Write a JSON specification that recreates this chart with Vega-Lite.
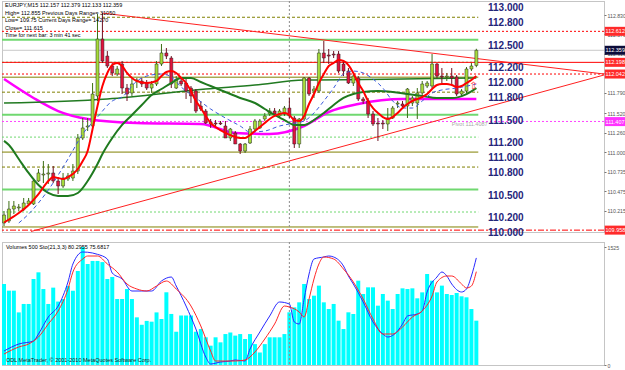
{
"$schema": "https://vega.github.io/schema/vega-lite/v6.json",
"padding": 0,
"spacing": 2,
"background": "white",
"config": {
  "view": {"stroke": "#8a8a8a", "strokeDash": [1, 1], "fill": "white"},
  "axis": {"grid": false, "domain": false},
  "text": {"font": "Liberation Sans"}
},
"datasets": {
  "bars": [
    {"i":0,"o":110.053,"h":110.213,"l":110.013,"c":110.160,"v":1047},
    {"i":1,"o":110.080,"h":110.347,"l":110.053,"c":110.240,"v":961},
    {"i":2,"o":110.240,"h":110.347,"l":110.173,"c":110.280,"v":961},
    {"i":3,"o":110.254,"h":110.307,"l":110.213,"c":110.267,"v":680},
    {"i":4,"o":110.240,"h":110.387,"l":110.213,"c":110.320,"v":789},
    {"i":5,"o":110.307,"h":110.387,"l":110.294,"c":110.347,"v":789},
    {"i":6,"o":110.307,"h":110.654,"l":110.294,"c":110.614,"v":1112},
    {"i":7,"o":110.614,"h":110.774,"l":110.601,"c":110.721,"v":1198},
    {"i":8,"o":110.694,"h":110.881,"l":110.587,"c":110.707,"v":982},
    {"i":9,"o":110.707,"h":110.841,"l":110.574,"c":110.721,"v":789},
    {"i":10,"o":110.721,"h":110.814,"l":110.587,"c":110.614,"v":1000},
    {"i":11,"o":110.614,"h":110.654,"l":110.440,"c":110.547,"v":820},
    {"i":12,"o":110.547,"h":110.721,"l":110.521,"c":110.654,"v":853},
    {"i":13,"o":110.641,"h":110.721,"l":110.614,"c":110.681,"v":1021},
    {"i":14,"o":110.654,"h":110.841,"l":110.614,"c":110.747,"v":960},
    {"i":15,"o":110.747,"h":111.241,"l":110.707,"c":111.188,"v":1215},
    {"i":16,"o":111.188,"h":111.455,"l":111.161,"c":111.322,"v":1525},
    {"i":17,"o":111.335,"h":111.455,"l":111.281,"c":111.348,"v":1306},
    {"i":18,"o":111.348,"h":111.922,"l":111.322,"c":111.775,"v":1345},
    {"i":19,"o":111.749,"h":112.843,"l":111.682,"c":112.509,"v":1345},
    {"i":20,"o":112.509,"h":112.856,"l":112.189,"c":112.216,"v":1330},
    {"i":21,"o":112.282,"h":112.349,"l":112.122,"c":112.149,"v":1112},
    {"i":22,"o":112.149,"h":112.189,"l":112.015,"c":112.056,"v":1138},
    {"i":23,"o":112.042,"h":112.149,"l":112.015,"c":112.109,"v":853},
    {"i":24,"o":112.176,"h":112.216,"l":111.775,"c":111.855,"v":853},
    {"i":25,"o":111.855,"h":111.909,"l":111.682,"c":111.775,"v":982},
    {"i":26,"o":111.789,"h":111.975,"l":111.749,"c":111.909,"v":853},
    {"i":27,"o":111.949,"h":111.989,"l":111.855,"c":111.962,"v":616},
    {"i":28,"o":111.949,"h":111.989,"l":111.869,"c":111.909,"v":520},
    {"i":29,"o":111.922,"h":111.962,"l":111.829,"c":111.855,"v":570},
    {"i":30,"o":111.855,"h":111.949,"l":111.789,"c":111.909,"v":560},
    {"i":31,"o":111.909,"h":112.216,"l":111.882,"c":112.176,"v":680},
    {"i":32,"o":112.176,"h":112.443,"l":112.149,"c":112.323,"v":595},
    {"i":33,"o":112.323,"h":112.389,"l":112.242,"c":112.282,"v":940},
    {"i":34,"o":112.256,"h":112.282,"l":111.855,"c":111.909,"v":660},
    {"i":35,"o":111.855,"h":112.015,"l":111.842,"c":111.962,"v":430},
    {"i":36,"o":111.949,"h":111.989,"l":111.882,"c":111.909,"v":640},
    {"i":37,"o":111.922,"h":111.989,"l":111.709,"c":111.815,"v":640},
    {"i":38,"o":111.855,"h":111.882,"l":111.655,"c":111.749,"v":640},
    {"i":39,"o":111.815,"h":111.842,"l":111.522,"c":111.548,"v":430},
    {"i":40,"o":111.615,"h":111.682,"l":111.548,"c":111.575,"v":465},
    {"i":41,"o":111.548,"h":111.575,"l":111.375,"c":111.388,"v":358},
    {"i":42,"o":111.402,"h":111.442,"l":111.322,"c":111.375,"v":250},
    {"i":43,"o":111.388,"h":111.428,"l":111.348,"c":111.375,"v":358},
    {"i":44,"o":111.388,"h":111.415,"l":111.362,"c":111.375,"v":293},
    {"i":45,"o":111.348,"h":111.415,"l":111.188,"c":111.188,"v":400},
    {"i":46,"o":111.188,"h":111.322,"l":111.148,"c":111.308,"v":420},
    {"i":47,"o":111.255,"h":111.281,"l":111.108,"c":111.108,"v":380},
    {"i":48,"o":111.108,"h":111.121,"l":110.974,"c":111.014,"v":400},
    {"i":49,"o":111.014,"h":111.121,"l":110.988,"c":111.108,"v":336},
    {"i":50,"o":111.121,"h":111.348,"l":111.108,"c":111.308,"v":400},
    {"i":51,"o":111.308,"h":111.442,"l":111.281,"c":111.415,"v":270},
    {"i":52,"o":111.322,"h":111.442,"l":111.308,"c":111.415,"v":160},
    {"i":53,"o":111.442,"h":111.522,"l":111.415,"c":111.482,"v":270},
    {"i":54,"o":111.508,"h":111.588,"l":111.482,"c":111.548,"v":358},
    {"i":55,"o":111.548,"h":111.588,"l":111.482,"c":111.508,"v":358},
    {"i":56,"o":111.482,"h":111.575,"l":111.455,"c":111.548,"v":358},
    {"i":57,"o":111.508,"h":111.615,"l":111.482,"c":111.588,"v":400},
    {"i":58,"o":111.588,"h":111.722,"l":111.455,"c":111.482,"v":681},
    {"i":59,"o":111.455,"h":111.482,"l":111.055,"c":111.108,"v":745},
    {"i":60,"o":111.108,"h":111.455,"l":111.055,"c":111.442,"v":810},
    {"i":61,"o":111.442,"h":112.002,"l":111.415,"c":111.989,"v":1047},
    {"i":62,"o":111.989,"h":112.002,"l":111.749,"c":111.775,"v":853},
    {"i":63,"o":111.815,"h":111.882,"l":111.722,"c":111.842,"v":896},
    {"i":64,"o":111.815,"h":112.376,"l":111.789,"c":112.323,"v":1026},
    {"i":65,"o":112.323,"h":112.483,"l":112.189,"c":112.256,"v":810},
    {"i":66,"o":112.296,"h":112.376,"l":112.176,"c":112.282,"v":724},
    {"i":67,"o":112.309,"h":112.349,"l":112.256,"c":112.296,"v":789},
    {"i":68,"o":112.309,"h":112.349,"l":112.056,"c":112.082,"v":573},
    {"i":69,"o":112.176,"h":112.216,"l":112.015,"c":112.082,"v":465},
    {"i":70,"o":112.082,"h":112.122,"l":111.909,"c":111.922,"v":681},
    {"i":71,"o":111.922,"h":112.042,"l":111.882,"c":112.015,"v":659},
    {"i":72,"o":111.989,"h":112.015,"l":111.682,"c":111.709,"v":1090},
    {"i":73,"o":111.709,"h":111.735,"l":111.642,"c":111.682,"v":918},
    {"i":74,"o":111.682,"h":111.722,"l":111.455,"c":111.508,"v":1004},
    {"i":75,"o":111.508,"h":111.548,"l":111.348,"c":111.375,"v":1004},
    {"i":76,"o":111.388,"h":111.455,"l":111.148,"c":111.375,"v":767},
    {"i":77,"o":111.388,"h":111.428,"l":111.308,"c":111.375,"v":918},
    {"i":78,"o":111.375,"h":111.588,"l":111.281,"c":111.455,"v":832},
    {"i":79,"o":111.455,"h":111.615,"l":111.442,"c":111.588,"v":724},
    {"i":80,"o":111.642,"h":111.682,"l":111.588,"c":111.655,"v":918},
    {"i":81,"o":111.642,"h":111.682,"l":111.588,"c":111.615,"v":991},
    {"i":82,"o":111.615,"h":111.855,"l":111.455,"c":111.842,"v":982},
    {"i":83,"o":111.655,"h":111.749,"l":111.615,"c":111.722,"v":991},
    {"i":84,"o":111.655,"h":111.855,"l":111.442,"c":111.789,"v":862},
    {"i":85,"o":111.789,"h":111.949,"l":111.722,"c":111.909,"v":939},
    {"i":86,"o":111.882,"h":111.949,"l":111.855,"c":111.922,"v":1176},
    {"i":87,"o":111.882,"h":112.309,"l":111.855,"c":112.176,"v":1090},
    {"i":88,"o":112.176,"h":112.189,"l":111.989,"c":112.015,"v":939},
    {"i":89,"o":112.015,"h":112.122,"l":111.922,"c":112.002,"v":1026},
    {"i":90,"o":112.002,"h":112.056,"l":111.949,"c":112.015,"v":918},
    {"i":91,"o":112.015,"h":112.122,"l":111.909,"c":111.989,"v":905},
    {"i":92,"o":112.002,"h":112.029,"l":111.749,"c":111.775,"v":931},
    {"i":93,"o":111.775,"h":111.842,"l":111.749,"c":111.815,"v":888},
    {"i":94,"o":111.815,"h":112.136,"l":111.789,"c":112.109,"v":875},
    {"i":95,"o":112.109,"h":112.189,"l":112.082,"c":112.149,"v":724},
    {"i":96,"o":112.157,"h":112.379,"l":112.133,"c":112.359,"v":573}
  ],
  "maRed": [
    {"i":0,"p":110.06},{"i":1,"p":110.10},{"i":3,"p":110.187},{"i":5,"p":110.294},{"i":7,"p":110.44},{"i":9,"p":110.614},{"i":10,"p":110.667},{"i":11,"p":110.654},{"i":12,"p":110.641},{"i":13,"p":110.667},{"i":14,"p":110.707},{"i":15,"p":110.774},{"i":16,"p":110.881},{"i":17,"p":111.014},{"i":18,"p":111.308},{"i":19,"p":111.615},{"i":20,"p":111.882},{"i":21,"p":112.056},{"i":22,"p":112.162},{"i":23,"p":112.189},{"i":24,"p":112.149},{"i":25,"p":112.056},{"i":26,"p":111.989},{"i":27,"p":111.949},{"i":29,"p":111.922},{"i":31,"p":111.949},{"i":32,"p":112.015},{"i":33,"p":112.069},{"i":34,"p":112.082},{"i":35,"p":112.056},{"i":36,"p":111.989},{"i":37,"p":111.922},{"i":38,"p":111.815},{"i":39,"p":111.682},{"i":40,"p":111.588},{"i":41,"p":111.482},{"i":42,"p":111.388},{"i":43,"p":111.335},{"i":45,"p":111.255},{"i":47,"p":111.201},{"i":48,"p":111.188},{"i":49,"p":111.188},{"i":50,"p":111.228},{"i":51,"p":111.281},{"i":52,"p":111.335},{"i":53,"p":111.388},{"i":54,"p":111.442},{"i":55,"p":111.482},{"i":56,"p":111.508},{"i":57,"p":111.522},{"i":58,"p":111.495},{"i":59,"p":111.428},{"i":60,"p":111.415},{"i":61,"p":111.482},{"i":62,"p":111.642},{"i":63,"p":111.775},{"i":64,"p":111.922},{"i":65,"p":112.042},{"i":66,"p":112.149},{"i":67,"p":112.189},{"i":68,"p":112.229},{"i":69,"p":112.216},{"i":70,"p":112.162},{"i":71,"p":112.056},{"i":72,"p":111.922},{"i":73,"p":111.815},{"i":74,"p":111.682},{"i":75,"p":111.588},{"i":76,"p":111.522},{"i":77,"p":111.468},{"i":78,"p":111.442},{"i":79,"p":111.468},{"i":80,"p":111.522},{"i":81,"p":111.588},{"i":82,"p":111.642},{"i":83,"p":111.682},{"i":84,"p":111.709},{"i":85,"p":111.735},{"i":86,"p":111.775},{"i":87,"p":111.842},{"i":88,"p":111.895},{"i":89,"p":111.909},{"i":90,"p":111.909},{"i":91,"p":111.895},{"i":92,"p":111.869},{"i":93,"p":111.882},{"i":94,"p":111.922},{"i":95,"p":111.962},{"i":96,"p":112.015}
  ],
  "maBlue": [
    {"i":3,"p":110.053},{"i":5,"p":110.173},{"i":9,"p":110.494},{"i":13,"p":110.907},{"i":16,"p":111.241},{"i":19,"p":111.468},{"i":22,"p":111.682},{"i":24,"p":111.735},{"i":27,"p":111.949},{"i":29,"p":112.015},{"i":32,"p":112.042},{"i":34,"p":112.002},{"i":36,"p":111.869},{"i":39,"p":111.722},{"i":42,"p":111.575},{"i":45,"p":111.455},{"i":48,"p":111.348},{"i":50,"p":111.268},{"i":53,"p":111.281},{"i":56,"p":111.348},{"i":58,"p":111.375},{"i":61,"p":111.415},{"i":63,"p":111.522},{"i":65,"p":111.682},{"i":67,"p":111.855},{"i":69,"p":112.042},{"i":71,"p":112.082},{"i":73,"p":112.056},{"i":75,"p":111.975},{"i":77,"p":111.855},{"i":79,"p":111.682},{"i":81,"p":111.588},{"i":83,"p":111.588},{"i":85,"p":111.682},{"i":87,"p":111.789},{"i":89,"p":111.829},{"i":92,"p":111.855},{"i":96,"p":111.909}
  ],
  "maGreen": [
    {"i":0,"p":111.15},{"i":1,"p":111.094},{"i":3,"p":110.907},{"i":5,"p":110.721},{"i":7,"p":110.56},{"i":9,"p":110.454},{"i":11,"p":110.413},{"i":13,"p":110.413},{"i":15,"p":110.454},{"i":17,"p":110.614},{"i":19,"p":110.841},{"i":20,"p":110.974},{"i":22,"p":111.188},{"i":24,"p":111.362},{"i":26,"p":111.495},{"i":28,"p":111.629},{"i":30,"p":111.762},{"i":32,"p":111.842},{"i":34,"p":111.922},{"i":36,"p":111.989},{"i":38,"p":111.989},{"i":40,"p":111.935},{"i":42,"p":111.882},{"i":45,"p":111.802},{"i":48,"p":111.722},{"i":51,"p":111.655},{"i":53,"p":111.575},{"i":55,"p":111.495},{"i":57,"p":111.428},{"i":59,"p":111.362},{"i":61,"p":111.362},{"i":63,"p":111.428},{"i":65,"p":111.522},{"i":67,"p":111.629},{"i":69,"p":111.722},{"i":71,"p":111.775},{"i":73,"p":111.802},{"i":76,"p":111.815},{"i":79,"p":111.802},{"i":82,"p":111.775},{"i":85,"p":111.749},{"i":88,"p":111.722},{"i":91,"p":111.722},{"i":94,"p":111.775},{"i":96,"p":111.855}
  ],
  "maLong": [
    {"i":0,"p":111.655},{"i":21,"p":111.709},{"i":41,"p":111.842},{"i":51,"p":111.895},{"i":61,"p":111.962},{"i":81,"p":111.975},{"i":96,"p":111.989}
  ],
  "maMag": [
    {"i":0,"p":111.975},{"i":6,"p":111.722},{"i":11,"p":111.548},{"i":17,"p":111.442},{"i":27,"p":111.388},{"i":40,"p":111.375},{"i":47,"p":111.255},{"i":54,"p":111.241},{"i":61,"p":111.348},{"i":66,"p":111.535},{"i":72,"p":111.642},{"i":81,"p":111.709},{"i":96,"p":111.709}
  ],
  "stochK": [
    {"i":0,"s":10.5},{"i":3,"s":15.75},{"i":6,"s":18},{"i":7,"s":23.25},{"i":9,"s":36},{"i":11,"s":44.25},{"i":13,"s":62.25},{"i":14,"s":75.75},{"i":16,"s":84.75},{"i":18,"s":84},{"i":19,"s":83},{"i":21,"s":79.5},{"i":22,"s":69},{"i":24,"s":64.5},{"i":26,"s":55.5},{"i":28,"s":55.5},{"i":30,"s":55.5},{"i":32,"s":63},{"i":34,"s":66},{"i":35,"s":59.25},{"i":37,"s":44.25},{"i":39,"s":27},{"i":41,"s":6},{"i":42,"s":0.75},{"i":44,"s":2.25},{"i":46,"s":3},{"i":47,"s":3.75},{"i":49,"s":3},{"i":50,"s":12},{"i":52,"s":24.75},{"i":54,"s":36.75},{"i":56,"s":47.25},{"i":58,"s":45.75},{"i":59,"s":32.25},{"i":60,"s":30.75},{"i":61,"s":49.5},{"i":62,"s":68.25},{"i":63,"s":79.5},{"i":65,"s":81},{"i":66,"s":81.75},{"i":67,"s":81},{"i":69,"s":74.25},{"i":70,"s":66.75},{"i":71,"s":60.75},{"i":73,"s":47.25},{"i":75,"s":32.25},{"i":77,"s":23.25},{"i":78,"s":21},{"i":80,"s":25.5},{"i":81,"s":30.75},{"i":82,"s":36.75},{"i":84,"s":38.25},{"i":85,"s":40.5},{"i":86,"s":54.75},{"i":88,"s":66},{"i":89,"s":69.75},{"i":90,"s":66.75},{"i":91,"s":60.75},{"i":93,"s":54.75},{"i":94,"s":57},{"i":95,"s":66.75},{"i":96,"s":80.3}
  ],
  "stochD": [
    {"i":0,"s":8.25},{"i":3,"s":13.5},{"i":5,"s":15.75},{"i":7,"s":21},{"i":9,"s":30.75},{"i":11,"s":40.5},{"i":13,"s":57},{"i":14,"s":69.75},{"i":16,"s":79.5},{"i":17,"s":81.75},{"i":19,"s":81.75},{"i":21,"s":75.75},{"i":23,"s":69.75},{"i":25,"s":60.75},{"i":27,"s":57},{"i":29,"s":55.5},{"i":31,"s":59.25},{"i":33,"s":63},{"i":35,"s":57},{"i":38,"s":44.25},{"i":40,"s":29.25},{"i":42,"s":10.5},{"i":43,"s":3},{"i":45,"s":3},{"i":47,"s":3},{"i":49,"s":3.75},{"i":51,"s":9.75},{"i":53,"s":19.5},{"i":55,"s":30.75},{"i":57,"s":44.25},{"i":58,"s":43.5},{"i":60,"s":39.75},{"i":61,"s":36},{"i":62,"s":49.5},{"i":63,"s":64.5},{"i":64,"s":75.75},{"i":65,"s":81},{"i":67,"s":79.5},{"i":69,"s":72},{"i":71,"s":62.25},{"i":73,"s":49.5},{"i":75,"s":34.5},{"i":77,"s":23.25},{"i":79,"s":23.25},{"i":81,"s":28.5},{"i":83,"s":36},{"i":85,"s":40.5},{"i":87,"s":51.75},{"i":88,"s":62.25},{"i":90,"s":66.75},{"i":91,"s":66.75},{"i":93,"s":60.75},{"i":94,"s":57.75},{"i":95,"s":59.25},{"i":96,"s":70}
  ]
},
"vconcat": [
{
  "width": 602,
  "height": 231,
  "encoding": {
    "y": {"type": "quantitative", "title": null, "scale": {"domain": [109.933, 113.017], "nice": false, "zero": false, "padding": 0},
          "axis": {"orient": "right", "values": [112.83,112.57,112.31,112.05,111.79,111.52,111.26,111.0,110.735,110.475,110.215], "format": ".3f", "tickSize": 2, "tickColor": "#777777", "labelColor": "#555555", "labelFontSize": 5.2, "labelFont": "Liberation Sans", "labelPadding": 1, "labelOverlap": false, "domain": false, "grid": false, "zindex": 0}}
  },
  "layer": [
    {"data": {"name": "bars"},
     "mark": {"type": "rule", "strokeWidth": 1, "clip": true},
     "encoding": {
       "x": {"field": "i", "type": "quantitative", "scale": {"domain": [-0.41, 121.95], "nice": false, "zero": false, "padding": 0}, "axis": null},
       "y": {"field": "l", "type": "quantitative", "title": null, "scale": {"domain": [109.933, 113.017], "nice": false, "zero": false, "padding": 0},
             "axis": {"orient": "right", "values": [112.83,112.57,112.31,112.05,111.79,111.52,111.26,111.0,110.735,110.475,110.215], "format": ".3f", "tickSize": 2, "tickColor": "#777777", "labelColor": "#555555", "labelFontSize": 5.2, "labelFont": "Liberation Sans", "labelPadding": 1, "labelOverlap": false, "domain": false, "grid": false, "zindex": 0}},
       "y2": {"field": "h"},
       "color": {"value": "#00000000"}
     }},
    {"data": {"values": [{"p":112.0},{"p":111.0},{"p":110.0}]},
     "mark": {"type": "rule", "color": "#808000", "strokeWidth": 1},
     "encoding": {
       "x": {"datum": -0.41, "type": "quantitative", "scale": {"domain": [-0.41, 121.95], "nice": false, "zero": false, "padding": 0}, "axis": null},
       "x2": {"datum": 96.4},
       "y": {"field": "p"}
     }},
    {"data": {"values": [{"p":112.8},{"p":111.8},{"p":110.8}]},
     "mark": {"type": "rule", "color": "#808000", "strokeWidth": 1, "strokeDash": [3, 2]},
     "encoding": {
       "x": {"datum": -0.41, "type": "quantitative", "scale": {"domain": [-0.41, 121.95], "nice": false, "zero": false, "padding": 0}, "axis": null},
       "x2": {"datum": 96.4},
       "y": {"field": "p"}
     }},
    {"data": {"values": [{"p":112.5},{"p":111.5},{"p":110.5}]},
     "mark": {"type": "rule", "color": "#70d870", "strokeWidth": 2},
     "encoding": {
       "x": {"datum": -0.41, "type": "quantitative", "scale": {"domain": [-0.41, 121.95], "nice": false, "zero": false, "padding": 0}, "axis": null},
       "x2": {"datum": 96.4},
       "y": {"field": "p"}
     }},
    {"data": {"values": [{"p":112.2},{"p":111.2},{"p":110.2}]},
     "mark": {"type": "rule", "color": "#70d870", "strokeWidth": 1, "strokeDash": [2, 2]},
     "encoding": {
       "x": {"datum": -0.41, "type": "quantitative", "scale": {"domain": [-0.41, 121.95], "nice": false, "zero": false, "padding": 0}, "axis": null},
       "x2": {"datum": 96.4},
       "y": {"field": "p"}
     }},
    {"data": {"values": [{"p":112.359}]},
     "mark": {"type": "rule", "color": "#c8c8c8", "strokeWidth": 1},
     "encoding": {"y": {"field": "p"}}},
    {"data": {"values": [{"p":112.612},{"p":112.042}]},
     "mark": {"type": "rule", "color": "#ff0000", "strokeWidth": 1, "strokeDash": [2, 2]},
     "encoding": {"y": {"field": "p"}}},
    {"data": {"values": [{"p":112.198}]},
     "mark": {"type": "rule", "color": "#ff0000", "strokeWidth": 1},
     "encoding": {"y": {"field": "p"}}},
    {"data": {"values": [{"p":111.4087}]},
     "mark": {"type": "rule", "color": "#ff40ff", "strokeWidth": 1, "strokeDash": [2, 2]},
     "encoding": {"y": {"field": "p"}}},
    {"data": {"values": [{"p":109.958}]},
     "mark": {"type": "rule", "color": "#ff0000", "strokeWidth": 1, "strokeDash": [6, 2, 2, 2]},
     "encoding": {"y": {"field": "p"}}},
    {"data": {"values": [{"t":"a","i":20,"p":112.856},{"t":"a","i":121.95,"p":112.042},{"t":"b","i":5.5,"p":109.94},{"t":"b","i":121.95,"p":112.029}]},
     "mark": {"type": "line", "color": "#ff2020", "strokeWidth": 1, "clip": true},
     "encoding": {
       "detail": {"field": "t"},
       "x": {"field": "i", "type": "quantitative", "scale": {"domain": [-0.41, 121.95], "nice": false, "zero": false, "padding": 0}, "axis": null},
       "y": {"field": "p"}
     }},
    {"data": {"values": [{"i":58}]},
     "mark": {"type": "rule", "color": "#8c8c8c", "strokeWidth": 1, "strokeDash": [2, 2]},
     "encoding": {
       "x": {"field": "i", "type": "quantitative", "scale": {"domain": [-0.41, 121.95], "nice": false, "zero": false, "padding": 0}, "axis": null},
       "y": null
     }},
    {"data": {"name": "maMag"},
     "mark": {"type": "line", "color": "#ff00ff", "strokeWidth": 2.5, "interpolate": "monotone", "clip": true},
     "encoding": {
       "x": {"field": "i", "type": "quantitative", "scale": {"domain": [-0.41, 121.95], "nice": false, "zero": false, "padding": 0}, "axis": null},
       "y": {"field": "p"}
     }},
    {"data": {"name": "maLong"},
     "mark": {"type": "line", "color": "#217a21", "strokeWidth": 1.5, "interpolate": "monotone", "clip": true},
     "encoding": {
       "x": {"field": "i", "type": "quantitative", "scale": {"domain": [-0.41, 121.95], "nice": false, "zero": false, "padding": 0}, "axis": null},
       "y": {"field": "p"}
     }},
    {"data": {"name": "bars"},
     "mark": {"type": "rule", "strokeWidth": 1, "clip": true},
     "encoding": {
       "x": {"field": "i", "type": "quantitative", "scale": {"domain": [-0.41, 121.95], "nice": false, "zero": false, "padding": 0}, "axis": null},
       "y": {"field": "l"},
       "y2": {"field": "h"},
       "color": {"condition": {"test": "datum.c >= datum.o", "value": "#3c6e14"}, "value": "#6e1020"}
     }},
    {"data": {"name": "bars"},
     "mark": {"type": "bar", "orient": "vertical", "width": 3, "stroke": "#222222", "strokeWidth": 0.5, "clip": true},
     "encoding": {
       "x": {"field": "i", "type": "quantitative", "scale": {"domain": [-0.41, 121.95], "nice": false, "zero": false, "padding": 0}, "axis": null},
       "y": {"field": "o"},
       "y2": {"field": "c"},
       "fill": {"condition": {"test": "datum.c >= datum.o", "value": "#a6dc3a"}, "value": "#e0143c"}
     }},
    {"data": {"name": "maGreen"},
     "mark": {"type": "line", "color": "#1f7a1f", "strokeWidth": 2, "interpolate": "monotone", "clip": true},
     "encoding": {
       "x": {"field": "i", "type": "quantitative", "scale": {"domain": [-0.41, 121.95], "nice": false, "zero": false, "padding": 0}, "axis": null},
       "y": {"field": "p"}
     }},
    {"data": {"name": "maBlue"},
     "mark": {"type": "line", "color": "#3b5bdb", "strokeWidth": 1, "strokeDash": [4, 3], "interpolate": "monotone", "clip": true},
     "encoding": {
       "x": {"field": "i", "type": "quantitative", "scale": {"domain": [-0.41, 121.95], "nice": false, "zero": false, "padding": 0}, "axis": null},
       "y": {"field": "p"}
     }},
    {"data": {"name": "maRed"},
     "mark": {"type": "line", "color": "#ff0000", "strokeWidth": 2, "interpolate": "monotone", "clip": true},
     "encoding": {
       "x": {"field": "i", "type": "quantitative", "scale": {"domain": [-0.41, 121.95], "nice": false, "zero": false, "padding": 0}, "axis": null},
       "y": {"field": "p"}
     }},
    {"data": {"values": [{"i":95.4,"p":111.885}]},
     "mark": {"type": "text", "font": "DejaVu Sans", "fontSize": 10, "color": "#ff3030", "align": "center", "baseline": "middle", "text": "⇧"},
     "encoding": {
       "x": {"field": "i", "type": "quantitative", "scale": {"domain": [-0.41, 121.95], "nice": false, "zero": false, "padding": 0}, "axis": null},
       "y": {"field": "p"}
     }},
    {"data": {"values": [{"p":113.0},{"p":112.8},{"p":112.5},{"p":112.2},{"p":112.0},{"p":111.8},{"p":111.5},{"p":111.2},{"p":111.0},{"p":110.8},{"p":110.5},{"p":110.2},{"p":110.0}]},
     "mark": {"type": "text", "font": "Liberation Sans", "fontSize": 10, "fontWeight": "bold", "color": "#24247a", "align": "center", "baseline": "middle", "dy": 6},
     "encoding": {
       "x": {"datum": 102, "type": "quantitative", "scale": {"domain": [-0.41, 121.95], "nice": false, "zero": false, "padding": 0}, "axis": null},
       "y": {"field": "p"},
       "text": {"field": "p", "type": "quantitative", "format": ".3f"}
     }},
    {"data": {"values": [{"p":112.99}]},
     "mark": {"type": "text", "fontSize": 5.5, "color": "#000000", "align": "left", "baseline": "top", "lineHeight": 7.5,
              "text": ["EURJPY,M15  112.157 112.379 112.133 112.359", "High= 112.855    Previous Days Range= 31050", "Low= 109.75    Current Days Range= 14270", "Close= 111.615", "Time for next bar: 3 min 41 sec"]},
     "encoding": {
       "x": {"datum": 0.2, "type": "quantitative", "scale": {"domain": [-0.41, 121.95], "nice": false, "zero": false, "padding": 0}, "axis": null},
       "y": {"field": "p"}
     }},
    {"data": {"values": [{"p":111.4087}]},
     "mark": {"type": "text", "fontSize": 5.5, "color": "#a8a8a8", "align": "left", "baseline": "top", "dy": 1, "text": "Pivot 111.4087"},
     "encoding": {
       "x": {"datum": 91, "type": "quantitative", "scale": {"domain": [-0.41, 121.95], "nice": false, "zero": false, "padding": 0}, "axis": null},
       "y": {"field": "p"}
     }},
    {"data": {"values": [{"p":112.612},{"p":112.198},{"p":112.042},{"p":109.958}]},
     "mark": {"type": "bar", "orient": "horizontal", "height": 9, "color": "#ff2a2a"},
     "encoding": {
       "x": {"datum": 122.1, "type": "quantitative", "scale": {"domain": [-0.41, 121.95], "nice": false, "zero": false, "padding": 0}, "axis": null},
       "x2": {"datum": 126.8},
       "y": {"field": "p"}
     }},
    {"data": {"values": [{"p":112.359}]},
     "mark": {"type": "bar", "orient": "horizontal", "height": 9, "color": "#0c0c3a"},
     "encoding": {
       "x": {"datum": 122.1, "type": "quantitative", "scale": {"domain": [-0.41, 121.95], "nice": false, "zero": false, "padding": 0}, "axis": null},
       "x2": {"datum": 126.8},
       "y": {"field": "p"}
     }},
    {"data": {"values": [{"p":111.407}]},
     "mark": {"type": "bar", "orient": "horizontal", "height": 9, "color": "#ff33ff"},
     "encoding": {
       "x": {"datum": 122.1, "type": "quantitative", "scale": {"domain": [-0.41, 121.95], "nice": false, "zero": false, "padding": 0}, "axis": null},
       "x2": {"datum": 126.8},
       "y": {"field": "p"}
     }},
    {"data": {"values": [{"p":112.612},{"p":112.198},{"p":112.042},{"p":109.958},{"p":112.359},{"p":111.407}]},
     "mark": {"type": "text", "fontSize": 5.5, "color": "#ffffff", "align": "left", "baseline": "middle"},
     "encoding": {
       "x": {"datum": 122.25, "type": "quantitative", "scale": {"domain": [-0.41, 121.95], "nice": false, "zero": false, "padding": 0}, "axis": null},
       "y": {"field": "p"},
       "text": {"field": "p", "type": "quantitative", "format": ".3f"}
     }}
  ]
},
{
  "width": 602,
  "height": 123,
  "layer": [
    {"data": {"name": "bars"},
     "mark": {"type": "bar", "color": "#00ffff", "width": 4, "clip": true},
     "encoding": {
       "x": {"field": "i", "type": "quantitative", "title": null, "scale": {"domain": [-0.41, 121.95], "nice": false, "zero": false, "padding": 0},
             "axis": {"values": [0,8,16,24,32,40,48,56,64,72,80,88,96], "labelExpr": "['1 Jun 2010','1 Jun 11:30','1 Jun 13:30','1 Jun 15:30','1 Jun 17:30','1 Jun 19:30','1 Jun 21:30','1 Jun 23:30','2 Jun 01:30','2 Jun 03:30','2 Jun 05:30','2 Jun 07:30','2 Jun 09:30'][floor(datum.value/8)]", "labelAlign": "left", "labelFlush": false, "labelOverlap": false, "tickSize": 3, "tickColor": "#777777", "labelColor": "#555555", "labelFontSize": 5.5, "labelFont": "Liberation Sans", "labelPadding": 1, "domain": false, "grid": false}},
       "y": {"field": "v", "type": "quantitative", "title": null, "scale": {"domain": [0, 1590], "nice": false, "zero": true, "padding": 0},
             "axis": {"orient": "right", "values": [0, 1525], "format": "d", "tickSize": 2, "tickColor": "#777777", "labelColor": "#555555", "labelFontSize": 5.2, "labelFont": "Liberation Sans", "labelPadding": 1, "domain": false, "grid": false}}
     }},
    {"data": {"values": [{"i":58}]},
     "mark": {"type": "rule", "color": "#8c8c8c", "strokeWidth": 1, "strokeDash": [2, 2]},
     "encoding": {
       "x": {"field": "i", "type": "quantitative", "scale": {"domain": [-0.41, 121.95], "nice": false, "zero": false, "padding": 0}, "axis": null}
     }},
    {"data": {"name": "stochK"},
     "mark": {"type": "line", "color": "#2828ff", "strokeWidth": 1, "interpolate": "monotone", "clip": true},
     "encoding": {
       "x": {"field": "i", "type": "quantitative", "scale": {"domain": [-0.41, 121.95], "nice": false, "zero": false, "padding": 0}, "axis": null},
       "y": {"field": "s", "type": "quantitative", "title": null, "axis": null, "scale": {"domain": [0, 92.25], "nice": false, "zero": false}}
     }},
    {"data": {"name": "stochD"},
     "mark": {"type": "line", "color": "#ff2828", "strokeWidth": 1, "interpolate": "monotone", "clip": true},
     "encoding": {
       "x": {"field": "i", "type": "quantitative", "scale": {"domain": [-0.41, 121.95], "nice": false, "zero": false, "padding": 0}, "axis": null},
       "y": {"field": "s", "type": "quantitative", "title": null, "axis": null, "scale": {"domain": [0, 92.25], "nice": false, "zero": false}}
     }},
    {"data": {"values": [{}]},
     "mark": {"type": "text", "fontSize": 5.5, "color": "#000000", "align": "left", "baseline": "top", "text": "Volumes 500  Sto(21,3,3) 80.2955 75.6817"},
     "encoding": {
       "x": {"datum": 0.4, "type": "quantitative", "scale": {"domain": [-0.41, 121.95], "nice": false, "zero": false, "padding": 0}, "axis": null},
       "y": {"datum": 1550, "type": "quantitative", "title": null, "axis": null, "scale": {"domain": [0, 1590], "nice": false}}
     }},
    {"data": {"values": [{}]},
     "mark": {"type": "text", "fontSize": 5.5, "color": "#222222", "align": "left", "baseline": "bottom", "text": "ODL MetaTrader, © 2001-2010 MetaQuotes Software Corp."},
     "encoding": {
       "x": {"datum": 0.4, "type": "quantitative", "scale": {"domain": [-0.41, 121.95], "nice": false, "zero": false, "padding": 0}, "axis": null},
       "y": {"datum": 20, "type": "quantitative", "title": null, "axis": null, "scale": {"domain": [0, 1590], "nice": false}}
     }}
  ],
  "resolve": {"scale": {"y": "independent"}}
}
]
}
